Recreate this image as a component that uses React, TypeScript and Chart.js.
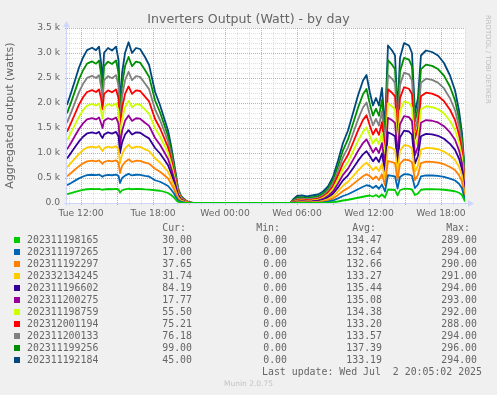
import React, { useEffect, useRef } from 'react';
import { Chart, registerables } from 'chart.js';

Chart.register(...registerables);

// time in hours since Tue 00:00
const hours = [
  10.83, 11.17, 11.5, 11.83, 12.17, 12.5, 12.92, 13.25, 13.5, 13.67, 13.79, 13.92, 14.25, 14.58, 14.92, 15.13,
  15.25, 15.42, 15.67, 15.96, 16.25, 16.58, 16.92, 17.33, 17.67, 18.17, 18.58, 18.92, 19.25, 19.5, 19.75, 19.92,
  20.08, 20.33, 20.67, 21.0, 21.33,
  29.42,
  29.67, 30.0, 30.42, 30.83, 31.25, 31.75, 32.17, 32.58, 33.0, 33.42, 33.83, 34.25, 34.67, 35.08, 35.5, 35.79,
  36.08, 36.33, 36.58, 36.83, 37.08, 37.33, 37.58, 37.92, 38.17, 38.38, 38.58, 38.92, 39.33, 39.58, 39.83, 40.08,
  40.33, 40.75, 41.25, 41.75, 42.25, 42.75, 43.17, 43.5, 43.75, 44.0,
];

const s1 = [175,198,221,243,262,275,280,276,282,270,262,272,280,275,282,270,205,255,272,289,275,281,280,272,268,255,245,225,200,160,110,60,25,8,2,0,0, 0,
  0,0,0,0,0,1,3,8,15,30,50,65,85,105,125,140,150,130,160,120,170,110,270,265,260,150,255,285,282,270,160,190,265,275,275,272,265,250,235,205,160,30];
const s2 = [182,203,226,249,268,281,285,280,287,275,262,276,284,280,287,270,195,245,276,294,276,284,283,270,262,200,180,160,140,110,80,55,30,14,6,2,0, 0,
  0,2,3,2,3,5,10,20,35,62,90,110,140,170,200,215,190,170,185,165,200,120,285,278,270,140,265,292,288,275,140,180,268,277,275,270,258,238,215,180,135,17];
const s3 = [176,199,222,245,263,276,281,277,283,268,258,272,281,276,283,265,200,240,272,290,271,280,279,266,258,230,200,175,150,120,85,60,35,16,7,2,0, 0,
  2,5,6,5,6,8,14,25,42,70,100,122,152,182,210,222,195,175,188,175,205,130,285,276,267,165,262,289,285,272,160,190,266,275,272,266,253,232,208,172,130,37.65];
const s4 = [180,201,224,247,265,278,283,277,284,262,258,273,282,277,284,262,200,235,273,291,272,282,280,265,252,210,185,160,135,105,75,50,30,14,6,1,0, 0,
  3,7,8,7,8,10,16,27,45,74,105,127,158,190,217,228,200,180,190,180,208,135,286,277,268,165,263,290,286,273,165,190,267,276,273,267,253,230,203,167,125,31.74];
const s5 = [178,202,225,248,267,281,285,280,287,265,260,276,285,280,287,260,200,235,276,294,275,285,283,267,252,205,180,155,130,105,70,50,28,13,6,1,0, 0,
  4,9,10,8,10,12,18,28,47,76,108,130,162,195,222,232,200,178,190,180,208,135,290,280,270,165,266,292,289,275,165,190,270,279,276,269,255,232,203,165,125,84.19];
const s6 = [181,203,226,249,267,280,284,281,286,255,200,274,283,279,286,258,160,230,274,293,273,283,281,265,250,200,175,150,125,100,70,50,28,13,6,2,0, 0,
  5,10,11,10,11,13,20,30,48,78,110,133,165,197,225,235,200,178,190,180,208,135,288,278,268,165,264,291,287,273,165,190,268,277,274,267,253,230,200,163,122,17.77];
const s7 = [177,200,223,246,264,277,282,276,283,245,190,272,281,276,283,255,165,230,272,292,272,281,279,263,247,195,170,145,120,95,65,45,25,12,5,1,0, 0,
  6,12,13,12,13,15,22,32,50,80,112,135,168,200,228,238,200,178,190,180,208,135,287,277,267,165,263,290,286,272,165,190,267,276,273,266,252,228,198,160,120,55.5];
const s8 = [174,196,218,241,259,272,277,273,279,250,185,268,276,272,279,250,160,235,268,288,268,277,275,258,242,185,160,135,115,90,65,45,25,12,5,1,0, 0,
  8,15,16,14,16,18,25,35,54,85,118,142,175,208,235,245,205,180,192,182,210,140,283,273,263,165,259,286,282,268,165,190,263,272,269,262,248,225,195,158,118,75.21];
const s9 = [183,204,227,250,268,281,285,280,287,245,170,276,285,280,287,250,140,225,276,294,275,284,282,264,246,190,165,140,115,90,60,45,25,12,5,1,0, 0,
  10,20,20,18,20,22,28,38,57,90,125,150,185,220,248,255,210,185,198,187,215,145,290,280,270,170,265,293,289,275,170,195,270,279,276,268,254,230,198,160,120,76.18];
const s10 = [186,207,230,254,272,286,290,285,292,240,180,280,289,285,292,255,165,240,280,296,279,289,287,268,250,180,155,130,110,90,60,45,25,13,6,2,0, 0,
  12,25,27,22,27,28,33,41,61,100,135,162,200,235,265,270,220,195,205,196,228,155,292,283,273,175,268,296,292,278,175,200,274,283,280,272,257,230,198,160,122,99];
const s11 = [170,193,215,238,256,270,274,271,276,230,175,265,274,270,276,255,160,230,265,294,264,274,271,262,233,170,145,125,110,85,60,45,24,13,6,2,0, 0,
  20,35,36,32,36,38,41,46,66,105,147,174,210,248,275,280,230,201,212,205,240,160,294,283,274,175,270,294,284,269,170,195,272,281,277,271,252,225,197,160,123,45];

const seriesValues = [s1, s2, s3, s4, s5, s6, s7, s8, s9, s10, s11];
const seriesNames = [
  '202311198165', '202311197265', '202311192297', '202332134245', '202311196602', '202311200275',
  '202311198759', '202312001194', '202311200133', '202311199256', '202311192184',
];
const seriesColors = ['#00CC00', '#0066B3', '#FF8000', '#FFCC00', '#330099', '#990099', '#CCFF00', '#FF0000', '#808080', '#008F00', '#00487D'];
const curValues = ['30.00', '17.00', '37.65', '31.74', '84.19', '17.77', '55.50', '75.21', '76.18', '99.00', '45.00'];
const minValues = ['0.00', '0.00', '0.00', '0.00', '0.00', '0.00', '0.00', '0.00', '0.00', '0.00', '0.00'];
const avgValues = ['134.47', '132.64', '132.66', '133.27', '135.44', '135.08', '134.38', '133.20', '133.57', '137.39', '133.19'];
const maxValues = ['289.00', '294.00', '290.00', '291.00', '294.00', '293.00', '292.00', '288.00', '294.00', '296.00', '294.00'];

const xTickHours = [12, 18, 24, 30, 36, 42];
const xTickLabels = ['Tue 12:00', 'Tue 18:00', 'Wed 00:00', 'Wed 06:00', 'Wed 12:00', 'Wed 18:00'];
const yTickValues = [0, 500, 1000, 1500, 2000, 2500, 3000, 3500];
const yTickLabels = ['0.0', '0.5 k', '1.0 k', '1.5 k', '2.0 k', '2.5 k', '3.0 k', '3.5 k'];

const W = 497;
const H = 395;
const FONT_COLOR = '#666666';
const AXIS_COLOR = '#CFD6F8';
const MINOR_GRID = 'rgba(191,191,191,0.5)';
const MAJOR_GRID = 'rgba(222,79,79,0.55)';

const rrdPlugin = {
  id: 'rrdLook',
  beforeDatasetsDraw(chart: any) {
    const { ctx, chartArea: a, scales } = chart;
    const xs = scales.x;
    const ys = scales.y;
    ctx.save();
    ctx.fillStyle = '#FFFFFF';
    ctx.fillRect(a.left, a.top, a.right - a.left, a.bottom - a.top);
    ctx.lineWidth = 1;
    ctx.setLineDash([1, 1]);
    const passes = [false, true];
    for (const major of passes) {
      ctx.strokeStyle = major ? MAJOR_GRID : MINOR_GRID;
      for (let v = 0; v <= 3500; v += 100) {
        if ((v % 500 === 0) !== major) continue;
        const py = Math.round(ys.getPixelForValue(v)) + 0.5;
        ctx.beginPath();
        ctx.moveTo(a.left - 2, py);
        ctx.lineTo(a.right, py);
        ctx.stroke();
      }
      for (let h = Math.ceil(xs.min); h <= xs.max + 0.001; h += 1) {
        if ((h % 3 === 0) !== major) continue;
        const px = Math.round(xs.getPixelForValue(h)) + 0.5;
        ctx.beginPath();
        ctx.moveTo(px, a.top);
        ctx.lineTo(px, a.bottom + 2);
        ctx.stroke();
      }
    }
    ctx.restore();
  },
  afterDatasetsDraw(chart: any) {
    const { ctx, chartArea: a } = chart;
    ctx.save();
    ctx.setLineDash([]);
    ctx.strokeStyle = AXIS_COLOR;
    ctx.fillStyle = AXIS_COLOR;
    ctx.lineWidth = 1;
    const y0 = Math.round(a.bottom) + 0.5;
    const x0 = Math.round(a.left) - 0.5;
    ctx.beginPath();
    ctx.moveTo(a.left - 3, y0);
    ctx.lineTo(a.right + 4, y0);
    ctx.stroke();
    ctx.beginPath();
    ctx.moveTo(a.right + 9, y0);
    ctx.lineTo(a.right + 3, y0 - 3.5);
    ctx.lineTo(a.right + 3, y0 + 3.5);
    ctx.closePath();
    ctx.fill();
    ctx.beginPath();
    ctx.moveTo(x0, a.bottom + 3);
    ctx.lineTo(x0, a.top - 2);
    ctx.stroke();
    ctx.beginPath();
    ctx.moveTo(x0, a.top - 7);
    ctx.lineTo(x0 - 3.5, a.top - 1);
    ctx.lineTo(x0 + 3.5, a.top - 1);
    ctx.closePath();
    ctx.fill();
    ctx.restore();
  },
};

const mono = '"DejaVu Sans Mono", monospace';
const sans = '"DejaVu Sans", sans-serif';

function Txt(props: { x?: number; right?: number; cy: number; text: string; size?: number; color?: string; family?: string }) {
  const size = props.size ?? 9.9;
  const style: any = {
    position: 'absolute',
    top: props.cy - 6,
    lineHeight: '12px',
    height: 12,
    fontSize: size,
    fontFamily: props.family ?? mono,
    color: props.color ?? FONT_COLOR,
    whiteSpace: 'pre',
  };
  if (props.right !== undefined) {
    style.right = W - props.right;
    style.textAlign = 'right';
  } else {
    style.left = props.x;
  }
  return <div style={style}>{props.text}</div>;
}

export default function App() {
  const ref = useRef<HTMLCanvasElement | null>(null);

  useEffect(() => {
    if (!ref.current) return;
    const datasets = seriesValues.map((vals, i) => ({
      label: seriesNames[i],
      data: hours.map((h, j) => ({ x: h, y: vals[j] ?? null })),
      borderColor: seriesColors[i],
      backgroundColor: seriesColors[i],
      borderWidth: 1.8,
      borderJoinStyle: 'round' as const,
      pointRadius: 0,
      fill: false,
      tension: 0,
    }));
    const tickFont = { family: sans, size: 9.2 };
    const chart = new Chart(ref.current, {
      type: 'line',
      data: { datasets },
      plugins: [rrdPlugin],
      options: {
        responsive: false,
        maintainAspectRatio: false,
        animation: false,
        devicePixelRatio: 1,
        layout: { padding: { left: 0, top: 28, right: 32, bottom: 174 } },
        plugins: {
          legend: { display: false },
          tooltip: { enabled: false },
          title: { display: false },
        },
        scales: {
          x: {
            type: 'linear',
            min: 10.83,
            max: 44.0,
            grid: { display: false, drawTicks: false },
            border: { display: false },
            afterBuildTicks: (s: any) => {
              s.ticks = xTickHours.map((v) => ({ value: v }));
            },
            afterFit: (s: any) => {
              s.height = 18;
            },
            ticks: {
              autoSkip: false,
              maxRotation: 0,
              padding: 5,
              color: FONT_COLOR,
              font: tickFont,
              callback: (v: any) => {
                const k = xTickHours.indexOf(Number(v));
                return k >= 0 ? xTickLabels[k] : '';
              },
            },
          },
          y: {
            type: 'linear',
            stacked: true,
            min: 0,
            max: 3500,
            grid: { display: false, drawTicks: false },
            border: { display: false },
            afterBuildTicks: (s: any) => {
              s.ticks = yTickValues.map((v) => ({ value: v }));
            },
            afterFit: (s: any) => {
              s.width = 67;
            },
            ticks: {
              padding: 7,
              color: FONT_COLOR,
              font: tickFont,
              callback: (v: any) => {
                const k = yTickValues.indexOf(Number(v));
                return k >= 0 ? yTickLabels[k] : '';
              },
            },
            title: {
              display: true,
              text: 'Aggregated output (watts)',
              color: FONT_COLOR,
              font: { family: sans, size: 11 },
              padding: { top: 4, bottom: 0 },
            },
          },
        },
      },
    } as any);
    return () => chart.destroy();
  }, []);

  const rowCy = (i: number) => 239.7 + 12 * i;

  return (
    <div style={{ position: 'absolute', left: 0, top: 0, width: W, height: H, background: '#F0F0F0', overflow: 'hidden' }}>
      <canvas ref={ref} width={W} height={H} style={{ position: 'absolute', left: 0, top: 0, width: W, height: H }} />
      <div
        style={{
          position: 'absolute', left: 0, width: W, top: 11, textAlign: 'center', fontFamily: sans,
          fontSize: 12.6, lineHeight: '16px', color: FONT_COLOR, whiteSpace: 'pre',
        }}
      >
        Inverters Output (Watt) - by day
      </div>
      <div
        style={{
          position: 'absolute', left: 483.5, top: 15, writingMode: 'vertical-rl', fontFamily: sans,
          fontSize: 6.9, lineHeight: '8px', color: '#BDBDBD', whiteSpace: 'pre',
        }}
      >
        RRDTOOL / TOBI OETIKER
      </div>
      <Txt right={186} cy={228.3} text="Cur:" />
      <Txt right={280} cy={228.3} text="Min:" />
      <Txt right={376} cy={228.3} text="Avg:" />
      <Txt right={470} cy={228.3} text="Max:" />
      {seriesNames.map((name, i) => (
        <React.Fragment key={name}>
          <div
            style={{
              position: 'absolute', left: 14, top: rowCy(i) - 3, width: 6, height: 6,
              background: seriesColors[i],
            }}
          />
          <Txt x={27} cy={rowCy(i)} text={name} />
          <Txt right={192} cy={rowCy(i)} text={curValues[i]} />
          <Txt right={287} cy={rowCy(i)} text={minValues[i]} />
          <Txt right={382} cy={rowCy(i)} text={avgValues[i]} />
          <Txt right={477} cy={rowCy(i)} text={maxValues[i]} />
        </React.Fragment>
      ))}
      <Txt right={482} cy={371.7} text="Last update: Wed Jul  2 20:05:02 2025" />
      <div
        style={{
          position: 'absolute', left: 0, width: W, top: 379, textAlign: 'center', fontFamily: sans,
          fontSize: 7.5, lineHeight: '10px', color: '#C4C4C4', whiteSpace: 'pre',
        }}
      >
        Munin 2.0.75
      </div>
    </div>
  );
}
